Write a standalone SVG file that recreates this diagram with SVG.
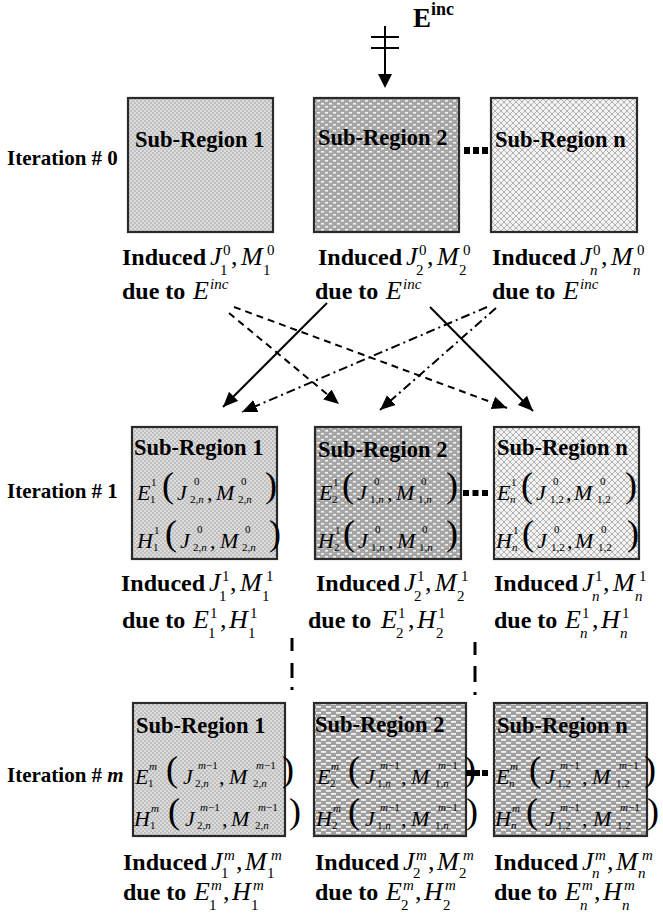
<svg xmlns="http://www.w3.org/2000/svg" width="663" height="920" viewBox="0 0 663 920">
<style>
.b{font-family:"Liberation Serif",serif;font-weight:bold;font-size:24px;fill:#000}
.st{font-family:"Liberation Serif",serif;font-weight:bold;font-size:22.5px;fill:#000}
.it{font-family:"Liberation Serif",serif;font-weight:bold;font-size:21px;fill:#000}
.mi{font-family:"Liberation Serif",serif;font-style:italic;font-size:26px;fill:#000}
.mr{font-family:"Liberation Serif",serif;font-size:26px;fill:#000}
.sc{font-family:"Liberation Serif",serif;font-size:15px;fill:#000}
.sci{font-family:"Liberation Serif",serif;font-style:italic;font-size:15px;fill:#000}
.fm{font-family:"Liberation Serif",serif;font-style:italic;font-size:22px;fill:#000}
.fr{font-family:"Liberation Serif",serif;font-size:22px;fill:#000}
.fs{font-family:"Liberation Serif",serif;font-size:11px;fill:#000}
.par{font-family:"Liberation Serif",serif;font-size:36px;fill:#000}
.i{font-style:italic}
.box{stroke:#2a2a2a;stroke-width:2.2}
.ln{fill:none;stroke:#000;stroke-width:2}
.dash{stroke-dasharray:7 5}
.dd{stroke-dasharray:9 4 2 4}
</style>
<defs>
<pattern id="pFine" width="4" height="4" patternUnits="userSpaceOnUse"><rect width="4" height="4" fill="#dcdcdc"/><rect width="2" height="2" fill="#bfbfbf"/><rect x="2" y="2" width="2" height="2" fill="#bfbfbf"/></pattern>
<pattern id="pDots" width="8" height="6" patternUnits="userSpaceOnUse"><rect width="8" height="6" fill="#a6a6a6"/><rect x="1" y="1" width="3" height="1.6" fill="#f2f2f2"/><rect x="5" y="4" width="3" height="1.6" fill="#f2f2f2"/></pattern>
<pattern id="pCross" width="6" height="6" patternUnits="userSpaceOnUse"><rect width="6" height="6" fill="#f3f3f3"/><path d="M0,0L6,6M6,0L0,6" stroke="#b2b2b2" stroke-width="1"/></pattern>
<pattern id="pDash" width="10" height="6" patternUnits="userSpaceOnUse"><rect width="10" height="6" fill="#a0a0a0"/><rect x="1" y="1" width="5" height="1.8" fill="#f2f2f2"/><rect x="6" y="4" width="4" height="1.8" fill="#f2f2f2"/><rect x="0" y="4" width="1" height="1.8" fill="#f2f2f2"/></pattern>
<marker id="ah" markerUnits="userSpaceOnUse" markerWidth="16" markerHeight="14" refX="15" refY="6.5" orient="auto"><path d="M0,0L15,6.5L0,13Z" fill="#000"/></marker>
</defs>
<rect width="663" height="920" fill="#fff"/>

<g id="einc">
<text class="b" x="413" y="27" style="font-size:27px">E</text>
<text class="b" x="431" y="15" style="font-size:18px">inc</text>
<line x1="385" y1="26" x2="385" y2="76" stroke="#000" stroke-width="2"/>
<line x1="371" y1="37" x2="399" y2="37" stroke="#000" stroke-width="2"/>
<line x1="371" y1="48" x2="399" y2="48" stroke="#000" stroke-width="2"/>
<path d="M378,74L392,74L385,88Z" fill="#000"/>
</g>

<g id="iter-labels">
<text class="it" x="7" y="165">Iteration # 0</text>
<text class="it" x="7" y="498">Iteration # 1</text>
<text class="it" x="7" y="782">Iteration # <tspan class="i">m</tspan></text>
</g>

<!-- Row 0 -->
<g id="r0-box1">
<rect class="box" x="128" y="98" width="145" height="134" fill="url(#pFine)"/>
<text class="st" x="135" y="147">Sub-Region 1</text>
</g>
<g id="r0-box2">
<rect class="box" x="314" y="98" width="145" height="134" fill="url(#pDots)"/>
<text class="st" x="318" y="145">Sub-Region 2</text>
</g>
<g id="r0-boxn">
<rect class="box" x="491" y="98" width="146" height="134" fill="url(#pCross)"/>
<text class="st" x="495" y="147">Sub-Region n</text>
</g>
<g id="r0-dots"><rect x="464" y="147" width="6" height="7"/><rect x="473" y="147" width="6" height="7"/><rect x="482" y="147" width="6" height="7"/></g>

<g id="r0-lab1">
<text class="b" x="122" y="265">Induced</text>
<g transform="translate(210,265)"><text class="mi">J</text><text class="sc" x="13" y="-10">0</text><text class="sc" x="10" y="10">1</text><text class="mr" x="21">,</text><text class="mi" x="31">M</text><text class="sc" x="57" y="-10">0</text><text class="sc" x="53" y="10">1</text></g>
<text class="b" x="122" y="299">due to</text>
<g transform="translate(193,299)"><text class="mi">E</text><text class="sci" x="17" y="-10">inc</text></g>
</g>
<g id="r0-lab2">
<text class="b" x="318" y="265">Induced</text>
<g transform="translate(406,265)"><text class="mi">J</text><text class="sc" x="13" y="-10">0</text><text class="sc" x="10" y="10">2</text><text class="mr" x="21">,</text><text class="mi" x="31">M</text><text class="sc" x="57" y="-10">0</text><text class="sc" x="53" y="10">2</text></g>
<text class="b" x="315" y="299">due to</text>
<g transform="translate(386,299)"><text class="mi">E</text><text class="sci" x="17" y="-10">inc</text></g>
</g>
<g id="r0-labn">
<text class="b" x="492" y="265">Induced</text>
<g transform="translate(580,265)"><text class="mi">J</text><text class="sc" x="13" y="-10">0</text><text class="sci" x="10" y="10">n</text><text class="mr" x="21">,</text><text class="mi" x="31">M</text><text class="sc" x="57" y="-10">0</text><text class="sci" x="53" y="10">n</text></g>
<text class="b" x="492" y="299">due to</text>
<g transform="translate(563,299)"><text class="mi">E</text><text class="sci" x="17" y="-10">inc</text></g>
</g>

<g id="connectors">
<line class="ln" x1="327" y1="303" x2="223" y2="407" marker-end="url(#ah)"/>
<line class="ln" x1="430" y1="307" x2="533" y2="411" marker-end="url(#ah)"/>
<line class="ln dash" x1="229" y1="313" x2="339" y2="404" marker-end="url(#ah)"/>
<line class="ln dash" x1="234" y1="307" x2="507" y2="408" marker-end="url(#ah)"/>
<line class="ln dd" x1="487" y1="307" x2="242" y2="412" marker-end="url(#ah)"/>
<line class="ln dd" x1="496" y1="308" x2="380" y2="410" marker-end="url(#ah)"/>
<g id="vdash1"><rect x="290.5" y="638" width="3" height="13"/><rect x="290.5" y="663" width="3" height="15"/><rect x="290.5" y="687" width="3" height="3"/></g>
<g id="vdash2"><rect x="473.5" y="642" width="3" height="13"/><rect x="473.5" y="666" width="3" height="16"/><rect x="473.5" y="692" width="3" height="3"/></g>
</g>

<!-- Row 1 -->
<g id="r1-box1">
<rect class="box" x="132" y="427" width="145" height="132" fill="url(#pFine)"/>
<text class="st" x="134" y="455">Sub-Region 1</text>
<g transform="translate(137,500)"><text class="fm">E</text><text class="fs" x="14" y="-14">1</text><text class="fs" x="13" y="3">1</text><text class="par" x="25" y="-3">(</text><text class="fm" x="40">J</text><text class="fs" x="57" y="-15">0</text><text class="fs" x="53" y="3">2,<tspan class="i">n</tspan></text><text class="fr" x="70">,</text><text class="fm" x="79">M</text><text class="fs" x="104" y="-15">0</text><text class="fs" x="101" y="3">2,<tspan class="i">n</tspan></text><text class="par" x="128" y="-3">)</text></g>
<g transform="translate(137,548)"><text class="fm">H</text><text class="fs" x="17" y="-14">1</text><text class="fs" x="16" y="3">1</text><text class="par" x="28" y="-3">(</text><text class="fm" x="43">J</text><text class="fs" x="60" y="-15">0</text><text class="fs" x="56" y="3">2,<tspan class="i">n</tspan></text><text class="fr" x="73">,</text><text class="fm" x="83">M</text><text class="fs" x="108" y="-15">0</text><text class="fs" x="105" y="3">2,<tspan class="i">n</tspan></text><text class="par" x="132" y="-3">)</text></g>
</g>
<g id="r1-box2">
<rect class="box" x="315" y="427" width="146" height="132" fill="url(#pDots)"/>
<text class="st" x="318" y="457">Sub-Region 2</text>
<g transform="translate(319,500)"><text class="fm">E</text><text class="fs" x="14" y="-14">1</text><text class="fs" x="13" y="3">2</text><text class="par" x="23" y="-3">(</text><text class="fm" x="38">J</text><text class="fs" x="55" y="-15">0</text><text class="fs" x="51" y="3">1,<tspan class="i">n</tspan></text><text class="fr" x="68">,</text><text class="fm" x="77">M</text><text class="fs" x="102" y="-15">0</text><text class="fs" x="99" y="3">1,<tspan class="i">n</tspan></text><text class="par" x="127" y="-3">)</text></g>
<g transform="translate(318,548)"><text class="fm">H</text><text class="fs" x="17" y="-14">1</text><text class="fs" x="16" y="3">2</text><text class="par" x="25" y="-3">(</text><text class="fm" x="40">J</text><text class="fs" x="57" y="-15">0</text><text class="fs" x="53" y="3">1,<tspan class="i">n</tspan></text><text class="fr" x="70">,</text><text class="fm" x="79">M</text><text class="fs" x="104" y="-15">0</text><text class="fs" x="101" y="3">1,<tspan class="i">n</tspan></text><text class="par" x="128" y="-3">)</text></g>
</g>
<g id="r1-boxn">
<rect class="box" x="494" y="427" width="145" height="132" fill="url(#pCross)"/>
<text class="st" x="497" y="455">Sub-Region n</text>
<g transform="translate(497,500)"><text class="fm">E</text><text class="fs" x="14" y="-14">1</text><text class="fs i" x="13" y="3">n</text><text class="par" x="24" y="-3">(</text><text class="fm" x="39">J</text><text class="fs" x="56" y="-15">0</text><text class="fs" x="53" y="3">1,2</text><text class="fr" x="69">,</text><text class="fm" x="77">M</text><text class="fs" x="103" y="-15">0</text><text class="fs" x="100" y="3">1,2</text><text class="par" x="128" y="-3">)</text></g>
<g transform="translate(496,548)"><text class="fm">H</text><text class="fs" x="17" y="-14">1</text><text class="fs i" x="16" y="3">n</text><text class="par" x="26" y="-3">(</text><text class="fm" x="41">J</text><text class="fs" x="58" y="-15">0</text><text class="fs" x="55" y="3">1,2</text><text class="fr" x="71">,</text><text class="fm" x="79">M</text><text class="fs" x="105" y="-15">0</text><text class="fs" x="102" y="3">1,2</text><text class="par" x="131" y="-3">)</text></g>
</g>
<g id="r1-dots"><rect x="463" y="490" width="6" height="6"/><rect x="472.5" y="490" width="6" height="6"/><rect x="482" y="490" width="6" height="6"/></g>

<g id="r1-lab1">
<text class="b" x="121" y="591">Induced</text>
<g transform="translate(209,591)"><text class="mi">J</text><text class="sc" x="13" y="-10">1</text><text class="sc" x="10" y="10">1</text><text class="mr" x="21">,</text><text class="mi" x="31">M</text><text class="sc" x="57" y="-10">1</text><text class="sc" x="53" y="10">1</text></g>
<text class="b" x="122" y="628">due to</text>
<g transform="translate(193,628)"><text class="mi">E</text><text class="sc" x="17" y="-10">1</text><text class="sc" x="15" y="10">1</text><text class="mr" x="27">,</text><text class="mi" x="36">H</text><text class="sc" x="57" y="-10">1</text><text class="sc" x="55" y="10">1</text></g>
</g>
<g id="r1-lab2">
<text class="b" x="316" y="591">Induced</text>
<g transform="translate(404,591)"><text class="mi">J</text><text class="sc" x="13" y="-10">1</text><text class="sc" x="10" y="10">2</text><text class="mr" x="21">,</text><text class="mi" x="31">M</text><text class="sc" x="57" y="-10">1</text><text class="sc" x="53" y="10">2</text></g>
<text class="b" x="308" y="628">due to</text>
<g transform="translate(381,628)"><text class="mi">E</text><text class="sc" x="17" y="-10">1</text><text class="sc" x="15" y="10">2</text><text class="mr" x="27">,</text><text class="mi" x="36">H</text><text class="sc" x="57" y="-10">1</text><text class="sc" x="55" y="10">2</text></g>
</g>
<g id="r1-labn">
<text class="b" x="494" y="591">Induced</text>
<g transform="translate(582,591)"><text class="mi">J</text><text class="sc" x="13" y="-10">1</text><text class="sci" x="10" y="10">n</text><text class="mr" x="21">,</text><text class="mi" x="31">M</text><text class="sc" x="57" y="-10">1</text><text class="sci" x="53" y="10">n</text></g>
<text class="b" x="494" y="628">due to</text>
<g transform="translate(565,628)"><text class="mi">E</text><text class="sc" x="17" y="-10">1</text><text class="sci" x="15" y="10">n</text><text class="mr" x="27">,</text><text class="mi" x="36">H</text><text class="sc" x="57" y="-10">1</text><text class="sci" x="55" y="10">n</text></g>
</g>

<!-- Row 2 -->
<g id="r2-box1">
<rect class="box" x="133" y="703" width="152" height="133" fill="url(#pFine)"/>
<text class="st" x="136" y="733">Sub-Region 1</text>
<g transform="translate(135,784)"><text class="fm">E</text><text class="fs i" x="14" y="-14">m</text><text class="fs" x="13" y="3">1</text><text class="par" x="31" y="-3">(</text><text class="fm" x="48">J</text><text class="fs" x="63" y="-15"><tspan class="i">m</tspan>−1</text><text class="fs" x="60" y="3">2,<tspan class="i">n</tspan></text><text class="fr" x="84">,</text><text class="fm" x="94">M</text><text class="fs" x="121" y="-15"><tspan class="i">m</tspan>−1</text><text class="fs" x="118" y="3">2,<tspan class="i">n</tspan></text><text class="par" x="147" y="-3">)</text></g>
<g transform="translate(134,826)"><text class="fm">H</text><text class="fs i" x="17" y="-14">m</text><text class="fs" x="16" y="3">1</text><text class="par" x="34" y="-3">(</text><text class="fm" x="51">J</text><text class="fs" x="66" y="-15"><tspan class="i">m</tspan>−1</text><text class="fs" x="63" y="3">2,<tspan class="i">n</tspan></text><text class="fr" x="88">,</text><text class="fm" x="97">M</text><text class="fs" x="124" y="-15"><tspan class="i">m</tspan>−1</text><text class="fs" x="121" y="3">2,<tspan class="i">n</tspan></text><text class="par" x="155" y="-3">)</text></g>
</g>
<g id="r2-box2">
<rect class="box" x="314" y="703" width="152" height="133" fill="url(#pDash)"/>
<text class="st" x="315" y="732">Sub-Region 2</text>
<g transform="translate(317,784)"><text class="fm">E</text><text class="fs i" x="14" y="-14">m</text><text class="fs" x="13" y="3">2</text><text class="par" x="31" y="-3">(</text><text class="fm" x="48">J</text><text class="fs" x="63" y="-15"><tspan class="i">m</tspan>−1</text><text class="fs" x="60" y="3">1,<tspan class="i">n</tspan></text><text class="fr" x="84">,</text><text class="fm" x="94">M</text><text class="fs" x="121" y="-15"><tspan class="i">m</tspan>−1</text><text class="fs" x="118" y="3">1,<tspan class="i">n</tspan></text><text class="par" x="147" y="-3">)</text></g>
<g transform="translate(316,826)"><text class="fm">H</text><text class="fs i" x="17" y="-14">m</text><text class="fs" x="16" y="3">2</text><text class="par" x="32" y="-3">(</text><text class="fm" x="49">J</text><text class="fs" x="64" y="-15"><tspan class="i">m</tspan>−1</text><text class="fs" x="61" y="3">1,<tspan class="i">n</tspan></text><text class="fr" x="85">,</text><text class="fm" x="95">M</text><text class="fs" x="122" y="-15"><tspan class="i">m</tspan>−1</text><text class="fs" x="119" y="3">1,<tspan class="i">n</tspan></text><text class="par" x="150" y="-3">)</text></g>
</g>
<g id="r2-boxn">
<rect class="box" x="494" y="703" width="153" height="133" fill="url(#pDash)"/>
<text class="st" x="497" y="733">Sub-Region n</text>
<g transform="translate(496,784)"><text class="fm">E</text><text class="fs i" x="14" y="-14">m</text><text class="fs i" x="13" y="3">n</text><text class="par" x="33" y="-3">(</text><text class="fm" x="49">J</text><text class="fs" x="64" y="-15"><tspan class="i">m</tspan>−1</text><text class="fs" x="61" y="3">1,2</text><text class="fr" x="86">,</text><text class="fm" x="96">M</text><text class="fs" x="123" y="-15"><tspan class="i">m</tspan>−1</text><text class="fs" x="120" y="3">1,2</text><text class="par" x="148" y="-3">)</text></g>
<g transform="translate(495,826)"><text class="fm">H</text><text class="fs i" x="17" y="-14">m</text><text class="fs i" x="16" y="3">n</text><text class="par" x="31" y="-3">(</text><text class="fm" x="50">J</text><text class="fs" x="65" y="-15"><tspan class="i">m</tspan>−1</text><text class="fs" x="62" y="3">1,2</text><text class="fr" x="87">,</text><text class="fm" x="98">M</text><text class="fs" x="125" y="-15"><tspan class="i">m</tspan>−1</text><text class="fs" x="122" y="3">1,2</text><text class="par" x="152" y="-3">)</text></g>
</g>
<g id="r2-dots"><rect x="466" y="770" width="6" height="6"/><rect x="474" y="770" width="6" height="6"/><rect x="482" y="770" width="6" height="6"/></g>

<g id="r2-lab1">
<text class="b" x="123" y="870">Induced</text>
<g transform="translate(211,870)"><text class="mi">J</text><text class="sci" x="13" y="-10">m</text><text class="sc" x="10" y="8">1</text><text class="mr" x="25">,</text><text class="mi" x="34">M</text><text class="sci" x="60" y="-10">m</text><text class="sc" x="56" y="8">1</text></g>
<text class="b" x="123" y="900">due to</text>
<g transform="translate(194,900)"><text class="mi">E</text><text class="sci" x="17" y="-10">m</text><text class="sc" x="15" y="10">1</text><text class="mr" x="29">,</text><text class="mi" x="38">H</text><text class="sci" x="59" y="-10">m</text><text class="sc" x="57" y="10">1</text></g>
</g>
<g id="r2-lab2">
<text class="b" x="315" y="870">Induced</text>
<g transform="translate(403,870)"><text class="mi">J</text><text class="sci" x="13" y="-10">m</text><text class="sc" x="10" y="8">2</text><text class="mr" x="25">,</text><text class="mi" x="34">M</text><text class="sci" x="60" y="-10">m</text><text class="sc" x="56" y="8">2</text></g>
<text class="b" x="315" y="900">due to</text>
<g transform="translate(386,900)"><text class="mi">E</text><text class="sci" x="17" y="-10">m</text><text class="sc" x="15" y="10">2</text><text class="mr" x="29">,</text><text class="mi" x="38">H</text><text class="sci" x="59" y="-10">m</text><text class="sc" x="57" y="10">2</text></g>
</g>
<g id="r2-labn">
<text class="b" x="494" y="870">Induced</text>
<g transform="translate(582,870)"><text class="mi">J</text><text class="sci" x="13" y="-10">m</text><text class="sci" x="10" y="8">n</text><text class="mr" x="25">,</text><text class="mi" x="34">M</text><text class="sci" x="60" y="-10">m</text><text class="sci" x="56" y="8">n</text></g>
<text class="b" x="494" y="900">due to</text>
<g transform="translate(565,900)"><text class="mi">E</text><text class="sci" x="17" y="-10">m</text><text class="sci" x="15" y="10">n</text><text class="mr" x="29">,</text><text class="mi" x="38">H</text><text class="sci" x="59" y="-10">m</text><text class="sci" x="57" y="10">n</text></g>
</g>
</svg>
